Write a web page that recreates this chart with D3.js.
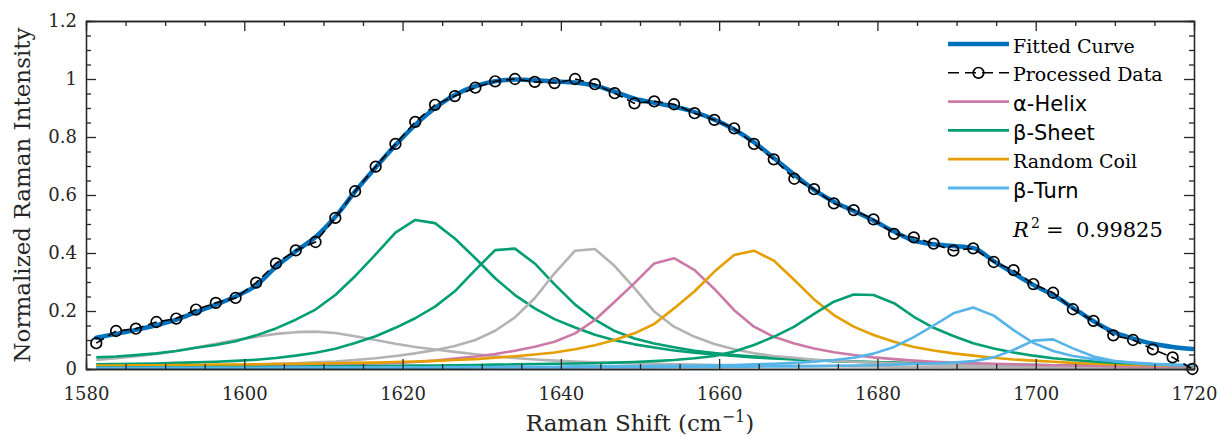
<!DOCTYPE html>
<html>
<head>
<meta charset="utf-8">
<script src="https://cdnjs.cloudflare.com/ajax/libs/d3/7.8.5/d3.min.js"></script>
<style>
  body { margin: 0; background: #fff; }
  svg { display: block; }
</style>
</head>
<body>
<script>
"use strict";

// Raman shift (cm-1) of each sample
var ramanShift = [1581.3, 1583.8, 1586.3, 1588.9, 1591.4, 1593.9, 1596.4, 1598.9, 1601.5, 1604.0,
  1606.5, 1609.0, 1611.5, 1614.0, 1616.6, 1619.1, 1621.6, 1624.1, 1626.6, 1629.2,
  1631.7, 1634.2, 1636.7, 1639.2, 1641.8, 1644.3, 1646.8, 1649.3, 1651.8, 1654.3,
  1656.9, 1659.4, 1661.9, 1664.4, 1666.9, 1669.5, 1672.0, 1674.5, 1677.0, 1679.5,
  1682.1, 1684.6, 1687.1, 1689.6, 1692.1, 1694.7, 1697.2, 1699.7, 1702.2, 1704.7,
  1707.3, 1709.8, 1712.3, 1714.8, 1717.3, 1719.8];

var processedData = [0.089, 0.131, 0.139, 0.162, 0.174, 0.205, 0.228, 0.245, 0.298, 0.364,
  0.409, 0.438, 0.521, 0.613, 0.698, 0.776, 0.852, 0.911, 0.941, 0.970,
  0.992, 1.000, 0.990, 0.986, 1.000, 0.982, 0.951, 0.916, 0.923, 0.913,
  0.882, 0.859, 0.830, 0.776, 0.723, 0.656, 0.620, 0.571, 0.548, 0.516,
  0.466, 0.454, 0.432, 0.408, 0.416, 0.369, 0.341, 0.293, 0.263, 0.206,
  0.166, 0.116, 0.100, 0.068, 0.040, 0.000];

var fittedCurve = [0.108, 0.121, 0.135, 0.151, 0.170, 0.196, 0.222, 0.250, 0.288, 0.352,
  0.406, 0.455, 0.525, 0.612, 0.695, 0.772, 0.842, 0.900, 0.945, 0.975,
  0.992, 0.998, 0.996, 0.992, 0.988, 0.977, 0.956, 0.932, 0.918, 0.905,
  0.886, 0.860, 0.826, 0.782, 0.728, 0.670, 0.618, 0.577, 0.545, 0.512,
  0.474, 0.443, 0.430, 0.424, 0.417, 0.372, 0.330, 0.290, 0.255, 0.211,
  0.165, 0.128, 0.105, 0.087, 0.076, 0.069];

// fitted bands
var sideChain1 = [0.031, 0.037, 0.044, 0.052, 0.062, 0.074, 0.087, 0.100, 0.111, 0.121,
  0.127, 0.129, 0.124, 0.113, 0.100, 0.087, 0.076, 0.067, 0.059, 0.051,
  0.044, 0.038, 0.033, 0.029, 0.026, 0.023, 0.021, 0.019, 0.018, 0.016,
  0.015, 0.014, 0.013, 0.012, 0.012, 0.011, 0.010, 0.010, 0.009, 0.009,
  0.008, 0.008, 0.008, 0.007, 0.007, 0.007, 0.007, 0.006, 0.006, 0.006,
  0.006, 0.006, 0.005, 0.005, 0.005, 0.005];

var betaSheet1 = [0.040, 0.043, 0.048, 0.054, 0.062, 0.073, 0.083, 0.096, 0.116, 0.140,
  0.170, 0.205, 0.255, 0.320, 0.395, 0.470, 0.514, 0.503, 0.450, 0.382,
  0.313, 0.255, 0.209, 0.172, 0.143, 0.118, 0.099, 0.085, 0.074, 0.064,
  0.056, 0.050, 0.045, 0.040, 0.036, 0.033, 0.030, 0.027, 0.025, 0.023,
  0.021, 0.020, 0.018, 0.017, 0.016, 0.015, 0.014, 0.014, 0.013, 0.012,
  0.012, 0.011, 0.011, 0.010, 0.010, 0.010];

var betaSheet2 = [0.016, 0.017, 0.018, 0.019, 0.021, 0.023, 0.025, 0.028, 0.032, 0.038,
  0.046, 0.056, 0.070, 0.090, 0.113, 0.142, 0.175, 0.215, 0.268, 0.342,
  0.410, 0.415, 0.364, 0.292, 0.222, 0.170, 0.131, 0.105, 0.088, 0.075,
  0.063, 0.055, 0.048, 0.043, 0.039, 0.035, 0.031, 0.028, 0.026, 0.024,
  0.022, 0.020, 0.019, 0.018, 0.017, 0.016, 0.015, 0.014, 0.013, 0.013,
  0.012, 0.011, 0.011, 0.010, 0.010, 0.009];

var sideChain2 = [0.008, 0.009, 0.009, 0.010, 0.011, 0.012, 0.013, 0.014, 0.016, 0.018,
  0.020, 0.023, 0.026, 0.031, 0.037, 0.045, 0.054, 0.065, 0.079, 0.100,
  0.132, 0.178, 0.244, 0.330, 0.408, 0.414, 0.355, 0.279, 0.198, 0.146,
  0.111, 0.086, 0.068, 0.054, 0.045, 0.039, 0.032, 0.028, 0.025, 0.022,
  0.020, 0.018, 0.016, 0.015, 0.014, 0.013, 0.012, 0.011, 0.010, 0.010,
  0.009, 0.009, 0.008, 0.008, 0.007, 0.007];

var alphaHelix = [0.006, 0.007, 0.007, 0.008, 0.008, 0.009, 0.009, 0.010, 0.011, 0.012,
  0.013, 0.014, 0.015, 0.017, 0.019, 0.021, 0.024, 0.029, 0.036, 0.043,
  0.052, 0.063, 0.077, 0.094, 0.123, 0.169, 0.232, 0.296, 0.364, 0.382,
  0.341, 0.276, 0.203, 0.146, 0.111, 0.088, 0.071, 0.058, 0.048, 0.040,
  0.034, 0.029, 0.025, 0.022, 0.020, 0.018, 0.016, 0.014, 0.013, 0.012,
  0.011, 0.010, 0.009, 0.009, 0.008, 0.008];

var randomCoil = [0.012, 0.012, 0.013, 0.013, 0.014, 0.014, 0.015, 0.015, 0.016, 0.017,
  0.018, 0.019, 0.020, 0.021, 0.022, 0.024, 0.026, 0.028, 0.031, 0.034,
  0.039, 0.044, 0.050, 0.057, 0.068, 0.082, 0.100, 0.123, 0.155, 0.209,
  0.268, 0.336, 0.393, 0.408, 0.374, 0.307, 0.240, 0.186, 0.146, 0.117,
  0.094, 0.076, 0.064, 0.054, 0.046, 0.039, 0.033, 0.029, 0.025, 0.021,
  0.018, 0.016, 0.014, 0.013, 0.011, 0.010];

var betaSheet3 = [0.005, 0.005, 0.005, 0.006, 0.006, 0.006, 0.007, 0.007, 0.007, 0.008,
  0.008, 0.009, 0.009, 0.010, 0.010, 0.011, 0.012, 0.012, 0.013, 0.014,
  0.015, 0.016, 0.017, 0.018, 0.019, 0.020, 0.022, 0.024, 0.027, 0.031,
  0.037, 0.045, 0.060, 0.083, 0.111, 0.146, 0.190, 0.232, 0.257, 0.255,
  0.227, 0.180, 0.142, 0.114, 0.089, 0.071, 0.057, 0.046, 0.037, 0.031,
  0.026, 0.022, 0.019, 0.016, 0.014, 0.012];

var betaTurn1 = [0.003, 0.003, 0.003, 0.004, 0.004, 0.004, 0.004, 0.004, 0.004, 0.005,
  0.005, 0.005, 0.005, 0.005, 0.006, 0.006, 0.006, 0.006, 0.007, 0.007,
  0.007, 0.008, 0.008, 0.008, 0.009, 0.009, 0.009, 0.010, 0.010, 0.011,
  0.012, 0.013, 0.014, 0.016, 0.018, 0.021, 0.025, 0.031, 0.039, 0.053,
  0.076, 0.110, 0.150, 0.192, 0.212, 0.184, 0.134, 0.090, 0.062, 0.045,
  0.034, 0.027, 0.022, 0.018, 0.015, 0.013];

var betaTurn2 = [0.003, 0.003, 0.003, 0.003, 0.003, 0.003, 0.003, 0.003, 0.003, 0.003,
  0.003, 0.004, 0.004, 0.004, 0.004, 0.004, 0.004, 0.004, 0.004, 0.005,
  0.005, 0.005, 0.005, 0.005, 0.005, 0.006, 0.006, 0.006, 0.006, 0.007,
  0.007, 0.007, 0.008, 0.008, 0.009, 0.009, 0.010, 0.011, 0.012, 0.013,
  0.015, 0.017, 0.019, 0.022, 0.027, 0.040, 0.066, 0.098, 0.102, 0.071,
  0.043, 0.028, 0.020, 0.016, 0.013, 0.011];

// ticks
var xTicks = [1580, 1600, 1620, 1640, 1660, 1680, 1700, 1720];
var yTicks = [0, 0.2, 0.4, 0.6, 0.8, 1, 1.2];
var yTickLabels = ["0", "0.2", "0.4", "0.6", "0.8", "1", "1.2"];

var legendLabels = ["Fitted Curve", "Processed Data", "\u03b1-Helix", "\u03b2-Sheet", "Random Coil", "\u03b2-Turn"];

var colFit = "#0072BD", colHelix = "#CC79A7", colSheet = "#009E73",
    colCoil = "#E69F00", colTurn = "#56B4E9", colSide = "#b3b3b3",
    axisColor = "#262626";

// define the dimensions and margins of the graph
var margin = {top: 21, right: 26, bottom: 67, left: 86},
    width = 1220 - margin.left - margin.right,
    height = 436 - margin.top - margin.bottom;

var x = d3.scaleLinear().domain([1580, 1720]).range([0, width]);
var y = d3.scaleLinear().domain([0, 1.2]).range([height, 0]);

var root = d3.select("body").append("svg")
    .attr("width", 1220)
    .attr("height", 436);

var svg = root.append("g")
    .attr("transform", "translate(" + margin.left + "," + margin.top + ")");

function valueline(values) {
  return d3.line()
    .x(function(d, i) { return x(ramanShift[i]); })
    .y(function(d) { return y(d); })(values);
}

// component bands
var components = [
  {values: sideChain1, color: colSide},
  {values: betaSheet1, color: colSheet},
  {values: betaSheet2, color: colSheet},
  {values: sideChain2, color: colSide},
  {values: alphaHelix, color: colHelix},
  {values: randomCoil, color: colCoil},
  {values: betaSheet3, color: colSheet},
  {values: betaTurn1, color: colTurn},
  {values: betaTurn2, color: colTurn}
];

svg.selectAll("path.band")
    .data(components)
  .enter().append("path")
    .attr("class", "band")
    .attr("fill", "none")
    .attr("stroke", function(d) { return d.color; })
    .attr("stroke-width", 2.6)
    .attr("stroke-linejoin", "round")
    .attr("d", function(d) { return valueline(d.values); });

// fitted curve
svg.append("path")
    .attr("fill", "none")
    .attr("stroke", colFit)
    .attr("stroke-width", 4.5)
    .attr("stroke-linecap", "round")
    .attr("d", d3.line()
      .curve(d3.curveMonotoneX)
      .x(function(d, i) { return x(ramanShift[i]); })
      .y(function(d) { return y(d); })(fittedCurve));

// processed data, open markers
svg.append("path")
    .attr("fill", "none")
    .attr("stroke", "#000")
    .attr("stroke-width", 1.6)
    .attr("stroke-dasharray", "9,5")
    .attr("d", valueline(processedData));

svg.selectAll("circle.pt")
    .data(processedData)
  .enter().append("circle")
    .attr("class", "pt")
    .attr("cx", function(d, i) { return x(ramanShift[i]); })
    .attr("cy", function(d) { return y(d); })
    .attr("r", 5.3)
    .attr("fill", "none")
    .attr("stroke", "#000")
    .attr("stroke-width", 1.7);

// axes
var xMinor = d3.range(1580, 1721, 5).filter(function(v) { return v % 20 !== 0; });
var yMinor = d3.range(0, 24).map(function(k) { return k * 0.05; }).filter(function(v, k) { return k % 4 !== 0; });

function styleAxis(g) {
  g.attr("font-family", "'DejaVu Serif', serif").attr("font-size", 18);
  g.selectAll(".domain").attr("stroke", axisColor).attr("stroke-width", 1.3);
  g.selectAll(".tick line").attr("stroke", axisColor).attr("stroke-width", 1.3);
  g.selectAll(".tick text").attr("fill", axisColor);
}

svg.append("g")
    .attr("transform", "translate(0," + height + ")")
    .call(d3.axisBottom(x).tickValues(xTicks).tickSizeInner(-10).tickSizeOuter(0)
      .tickPadding(18).tickFormat(d3.format("d")))
    .call(styleAxis);
svg.append("g")
    .attr("transform", "translate(0," + height + ")")
    .call(d3.axisBottom(x).tickValues(xMinor).tickSize(-5).tickFormat(""))
    .call(styleAxis);
svg.append("g")
    .call(d3.axisTop(x).tickValues(xTicks).tickSizeInner(-10).tickSizeOuter(0).tickFormat(""))
    .call(styleAxis);
svg.append("g")
    .call(d3.axisTop(x).tickValues(xMinor).tickSize(-5).tickFormat(""))
    .call(styleAxis);

svg.append("g")
    .call(d3.axisLeft(y).tickValues(yTicks).tickSizeInner(-10).tickSizeOuter(0)
      .tickPadding(9).tickFormat(function(d, i) { return yTickLabels[i]; }))
    .call(styleAxis);
svg.append("g")
    .call(d3.axisLeft(y).tickValues(yMinor).tickSize(-5).tickFormat(""))
    .call(styleAxis);
svg.append("g")
    .attr("transform", "translate(" + width + ",0)")
    .call(d3.axisRight(y).tickValues(yTicks).tickSizeInner(-10).tickSizeOuter(0).tickFormat(""))
    .call(styleAxis);
svg.append("g")
    .attr("transform", "translate(" + width + ",0)")
    .call(d3.axisRight(y).tickValues(yMinor).tickSize(-5).tickFormat(""))
    .call(styleAxis);

// axis titles
var xTitle = root.append("text")
    .attr("x", margin.left + width / 2)
    .attr("y", 431)
    .attr("text-anchor", "middle")
    .attr("font-family", "'DejaVu Serif', serif")
    .attr("font-size", 23)
    .attr("fill", axisColor);
xTitle.append("tspan").text("Raman Shift (cm");
xTitle.append("tspan").attr("font-size", 16).attr("dy", -9).text("\u22121");
xTitle.append("tspan").attr("dy", 9).text(")");

root.append("text")
    .attr("transform", "translate(30," + (margin.top + height / 2) + ") rotate(-90)")
    .attr("text-anchor", "middle")
    .attr("font-family", "'DejaVu Serif', serif")
    .attr("font-size", 23)
    .attr("fill", axisColor)
    .text("Normalized Raman Intensity");

// legend
var legendColors = [colFit, "#000", colHelix, colSheet, colCoil, colTurn];
var legend = root.append("g").attr("transform", "translate(948,44)");
legendLabels.forEach(function(label, i) {
  var row = legend.append("g").attr("transform", "translate(0," + (i * 28.8) + ")");
  var line = row.append("line")
      .attr("x1", 0).attr("x2", 61).attr("y1", 0).attr("y2", 0)
      .attr("stroke", legendColors[i])
      .attr("stroke-width", i === 0 ? 4.5 : (i === 1 ? 1.6 : 2.8));
  if (i === 1) {
    line.attr("stroke-dasharray", "11,6");
    row.append("circle").attr("cx", 30.5).attr("cy", 0).attr("r", 5.3)
      .attr("fill", "none").attr("stroke", "#000").attr("stroke-width", 1.7);
  }
  var greek = label.charAt(0) === "\u03b1" || label.charAt(0) === "\u03b2";
  row.append("text")
      .attr("x", 65)
      .attr("y", greek ? 9.5 : 8.5)
      .attr("font-family", greek ? "'DejaVu Sans', sans-serif" : "'DejaVu Serif', serif")
      .attr("font-size", greek ? 21 : 19)
      .attr("fill", "#000")
      .text(label);
});

// goodness of fit
var r2 = root.append("text")
    .attr("y", 236.5)
    .attr("font-family", "'DejaVu Serif', serif")
    .attr("font-size", 21)
    .attr("fill", "#000");
r2.append("tspan").attr("x", 1013).attr("font-style", "italic").text("R");
r2.append("tspan").attr("x", 1031).attr("dy", -9).attr("font-size", 14).text("2");
r2.append("tspan").attr("x", 1046).attr("dy", 9).text("=");
r2.append("tspan").attr("x", 1076).text("0.99825");
</script>
</body>
</html>
